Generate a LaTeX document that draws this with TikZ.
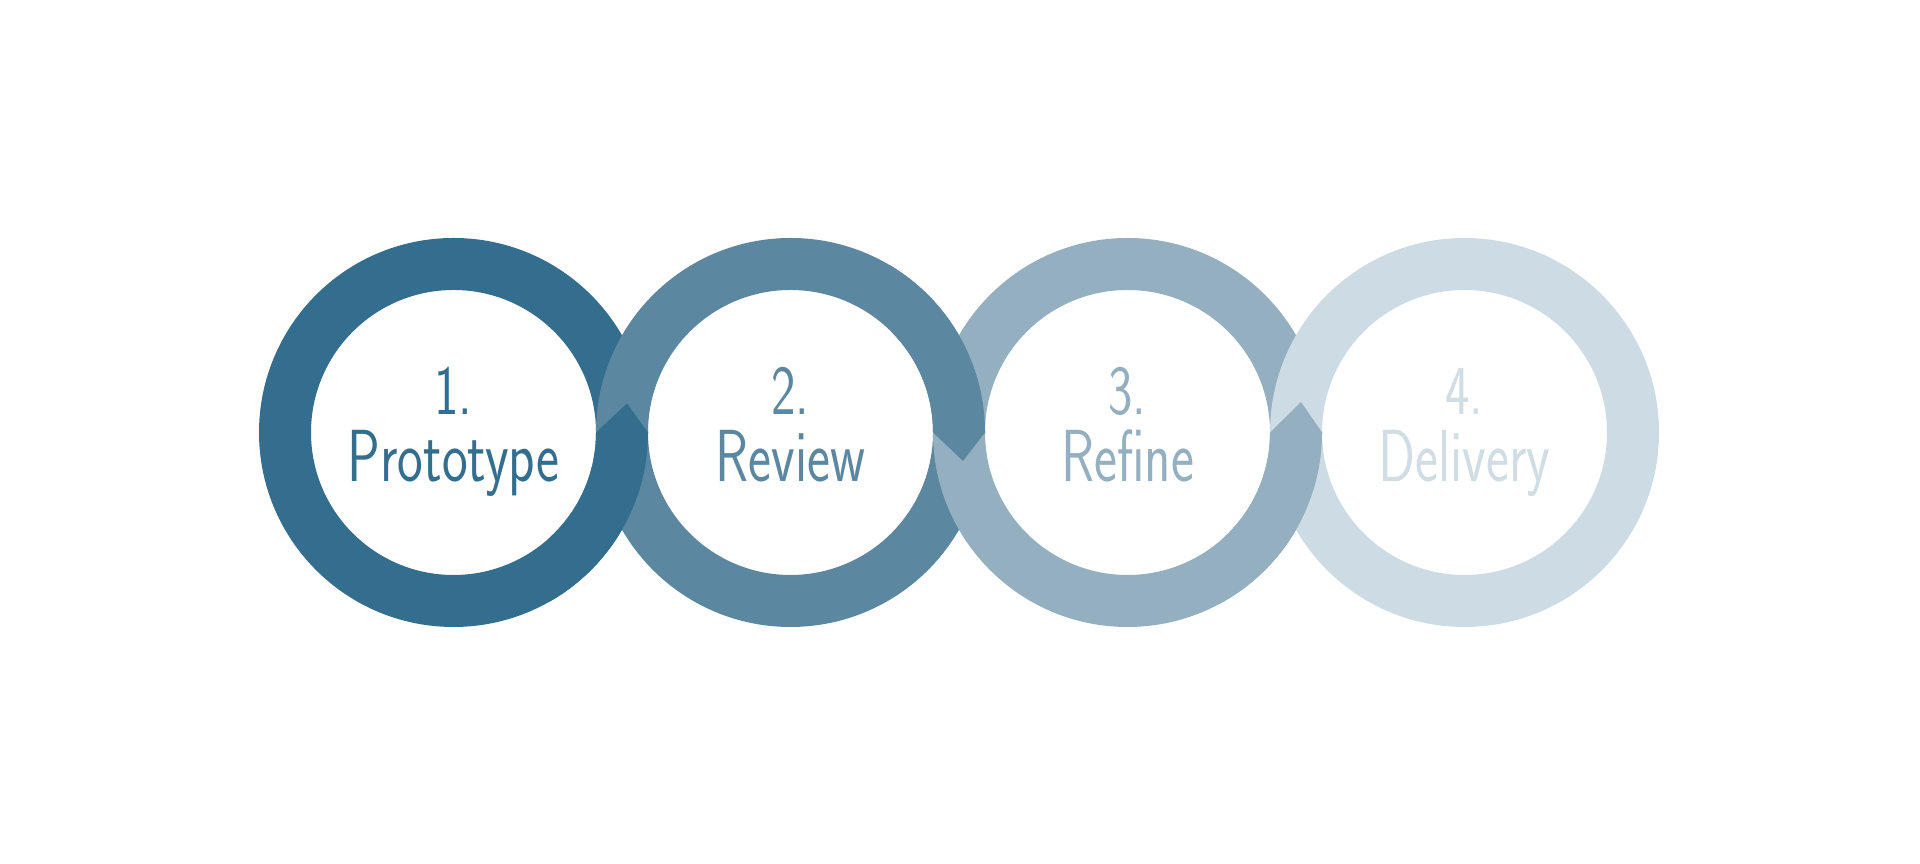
\documentclass[tikz,border=0pt]{standalone}
\usepackage{tikz}
\usepackage{xcolor}

\definecolor{ringA}{HTML}{336E8F}
\definecolor{ringB}{HTML}{5C87A0}
\definecolor{ringC}{HTML}{94B0C0}
\definecolor{ringD}{HTML}{CDDCE4}
\definecolor{textD}{HTML}{D0DDE5}

\newcommand{\slimtext}[1]{\scalebox{0.74}[1]{#1}}

\begin{document}
\begin{tikzpicture}
        % ================= 样式定义 =================
        \tikzset{
            % 圆环 (外半径 1.945, 内半径 1.425)
            ring_one/.style={fill=ringA, even odd rule},
            ring_two/.style={fill=ringB, even odd rule},
            ring_three/.style={fill=ringC, even odd rule},
            ring_four/.style={fill=ringD, even odd rule},
            % 文字
            step_num/.style={font=\sffamily\fontsize{20}{24}\selectfont, anchor=base, inner sep=0pt},
            step_label/.style={font=\sffamily\fontsize{21}{25}\selectfont, anchor=base, inner sep=0pt}
        }

        % 画布大小
        \useasboundingbox (0,0) rectangle (19.2,8.64);
        \fill[white] (0,0) rectangle (19.2,8.64);

        % 四个圆心
        \coordinate (c1) at (4.535,4.315);
        \coordinate (c2) at (7.905,4.315);
        \coordinate (c3) at (11.275,4.315);
        \coordinate (c4) at (14.645,4.315);

        % --- 1. 依次绘制四个圆环 (后画的在上) ---
        \fill[ring_one] (c1) circle (1.945) (c1) circle (1.425);
        \fill[ring_two] (c2) circle (1.945) (c2) circle (1.425);
        \fill[ring_three] (c3) circle (1.945) (c3) circle (1.425);
        \fill[ring_four] (c4) circle (1.945) (c4) circle (1.425);

        % --- 2. 交叠处: 环 1 压住环 2 的下半部 (尖角朝上) ---
        \begin{scope}
            \clip (5.5,4.315) -- (5.96,4.315) -- (6.27,4.605) -- (6.48,4.315)
                -- (7.2,4.315) -- (7.2,2.0) -- (5.5,2.0) -- cycle;
            \fill[ring_one] (c1) circle (1.945) (c1) circle (1.425);
        \end{scope}

        % --- 3. 交叠处: 环 2 压住环 3 的上半部 (尖角朝下) ---
        \begin{scope}
            \clip (8.9,4.315) -- (9.33,4.315) -- (9.63,4.03) -- (9.85,4.315)
                -- (10.5,4.315) -- (10.5,6.6) -- (8.9,6.6) -- cycle;
            \fill[ring_two] (c2) circle (1.945) (c2) circle (1.425);
        \end{scope}

        % --- 4. 交叠处: 环 3 压住环 4 的下半部 (尖角朝上) ---
        \begin{scope}
            \clip (12.24,4.315) -- (12.70,4.315) -- (13.01,4.62) -- (13.22,4.315)
                -- (13.94,4.315) -- (13.94,2.0) -- (12.24,2.0) -- cycle;
            \fill[ring_three] (c3) circle (1.945) (c3) circle (1.425);
        \end{scope}

        % 放置文字
        \node[step_num, text=ringA] (num1) at (4.535,4.49) {\slimtext{1.}};
        \node[step_label, text=ringA] (name1) at (4.535,3.82) {\slimtext{Prototype}};
        \node[step_num, text=ringB] (num2) at (7.905,4.49) {\slimtext{2.}};
        \node[step_label, text=ringB] (name2) at (7.905,3.82) {\slimtext{Review}};
        \node[step_num, text=ringC] (num3) at (11.275,4.49) {\slimtext{3.}};
        \node[step_label, text=ringC] (name3) at (11.275,3.82) {\slimtext{Refine}};
        \node[step_num, text=textD] (num4) at (14.645,4.49) {\slimtext{4.}};
        \node[step_label, text=textD] (name4) at (14.645,3.82) {\slimtext{Delivery}};

    \end{tikzpicture}
\end{document}
